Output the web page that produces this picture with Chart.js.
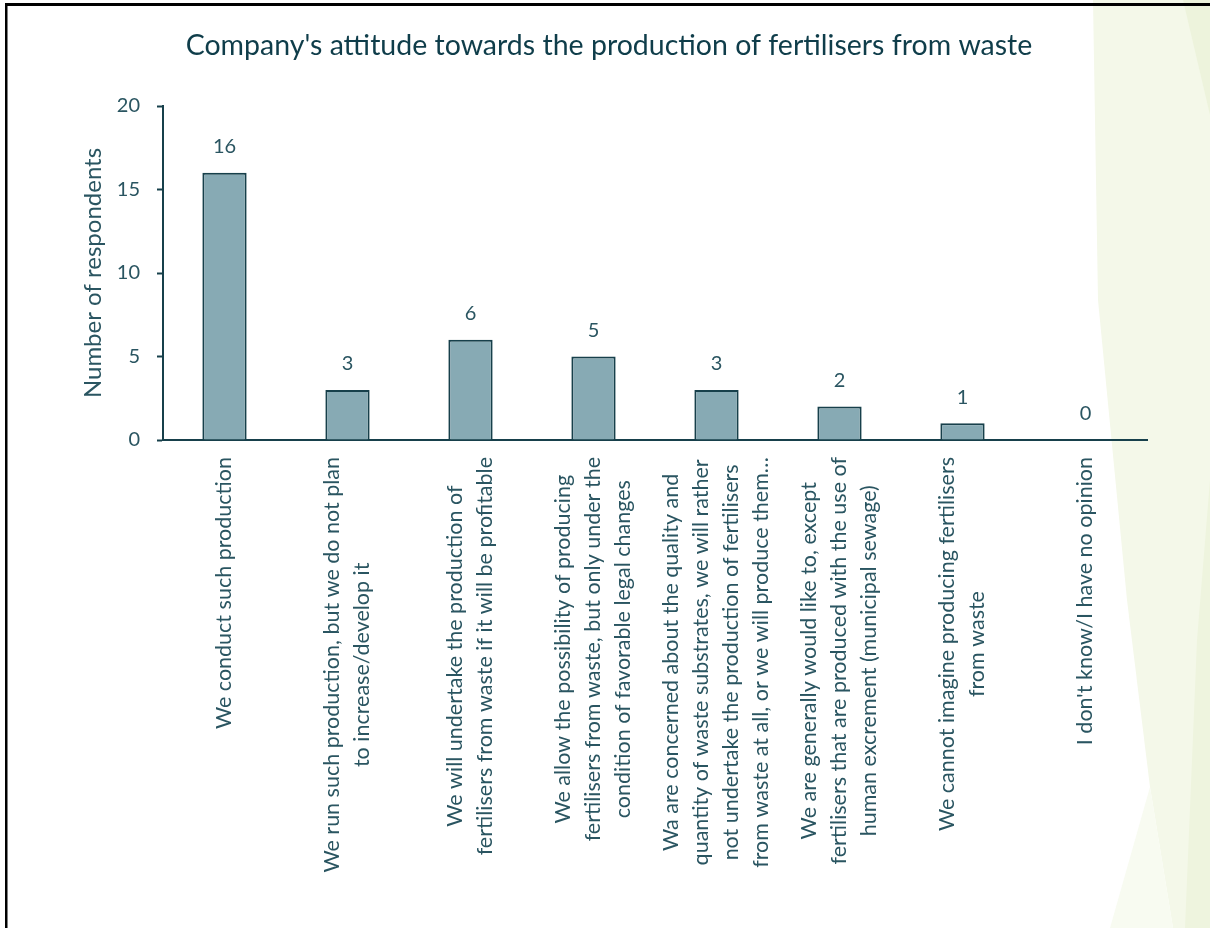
<!DOCTYPE html>
<html>
<head>
<meta charset="utf-8">
<title>Company's attitude towards the production of fertilisers from waste</title>
<script src="https://cdn.jsdelivr.net/npm/chart.js@4.4.0/dist/chart.umd.min.js"></script>
<style>
  html, body { margin: 0; padding: 0; background: #fff; }
  canvas { display: block; }
</style>
</head>
<body>
<canvas id="myChart" width="1210" height="928"></canvas>

<script>
    // survey answers (multi-line category labels) and counts
    var categories = [
        ["We conduct such production"],
        ["We run such production, but we do not plan", "to increase/develop it"],
        ["We will undertake the production of", "fertilisers from waste if it will be profitable"],
        ["We allow the possibility of producing", "fertilisers from waste, but only under the", "condition of favorable legal changes"],
        ["Wa are concerned about the quality and", "quantity of waste substrates, we will rather", "not undertake the production of fertilisers", "from waste at all, or we will produce them\u2026"],
        ["We are generally would like to, except", "fertilisers that are produced with the use of", "human excrement (municipal sewage)"],
        ["We cannot imagine producing fertilisers", "from waste"],
        ["I don't know/I have no opinion"]
    ];
    var respondents = [16, 3, 6, 5, 3, 2, 1, 0];
    var yTicks = [0, 5, 10, 15, 20];
    var chartTitle = "Company's attitude towards the production of fertilisers from waste";

    var ink = '#17404b';
    var textCol = '#2a5561';
    var fontFam = 'Lato, "Open Sans", sans-serif';

    // slide background: white with the green strip on the right, title and black frame
    var backdrop = {
        id: 'backdrop',
        beforeDraw: function(chart) {
            var c = chart.ctx;
            c.save();
            c.fillStyle = '#ffffff';
            c.fillRect(0, 0, chart.width, chart.height);
            function poly(pts, col) {
                c.beginPath();
                c.moveTo(pts[0][0], pts[0][1]);
                for (var i = 1; i < pts.length; i++) c.lineTo(pts[i][0], pts[i][1]);
                c.closePath();
                c.fillStyle = col;
                c.fill();
            }
            poly([[1093, 0], [1210, 0], [1210, 928], [1173, 928], [1150, 787], [1127, 600], [1098, 300]], '#f4f8e9');
            poly([[1150, 787], [1173, 928], [1110, 928]], '#f8fbf1');
            poly([[1183, 0], [1210, 0], [1210, 115]], '#edf3dc');
            poly([[1210, 480], [1210, 928], [1185, 928], [1197, 640]], '#eef4de');

            c.font = '28.5px ' + fontFam;
            c.fillStyle = '#0f3d4a';
            c.textAlign = 'center';
            c.textBaseline = 'middle';
            c.fillText(chartTitle, 609, 46);
            c.restore();
        },
        afterDraw: function(chart) {
            var c = chart.ctx;
            c.save();
            c.fillStyle = '#000';
            c.fillRect(5, 3, chart.width - 5, 3);
            c.fillRect(5, 3, 2.5, chart.height);
            c.restore();
        }
    };

    // count written above each bar
    var valueLabels = {
        id: 'valueLabels',
        afterDatasetsDraw: function(chart) {
            var c = chart.ctx;
            var meta = chart.getDatasetMeta(0);
            c.save();
            c.font = '20px ' + fontFam;
            c.fillStyle = textCol;
            c.textAlign = 'center';
            c.textBaseline = 'middle';
            meta.data.forEach(function(bar, i) {
                c.fillText(String(respondents[i]), bar.x, bar.y - 26);
            });
            c.restore();
        }
    };

    // rotated category labels, lines centred on each other
    var categoryLabels = {
        id: 'categoryLabels',
        afterDraw: function(chart) {
            var c = chart.ctx;
            var xs = chart.scales.x;
            var top = chart.chartArea.bottom + 17;
            c.save();
            c.font = '21.5px ' + fontFam;
            c.fillStyle = textCol;
            c.textAlign = 'center';
            c.textBaseline = 'middle';
            categories.forEach(function(lines, i) {
                var cx = xs.getPixelForValue(i);
                var w = Math.max.apply(null, lines.map(function(l) { return c.measureText(l).width; }));
                c.save();
                c.translate(cx, top + w / 2);
                c.rotate(-Math.PI / 2);
                lines.forEach(function(l, j) {
                    c.fillText(l, 0, (j - (lines.length - 1) / 2) * 30);
                });
                c.restore();
            });
            c.restore();
        }
    };

    var ctx = document.getElementById('myChart').getContext('2d');
    var chart = new Chart(ctx, {
        type: 'bar',
        data: {
            labels: categories,
            datasets: [{
                label: 'Number of respondents',
                data: respondents,
                backgroundColor: '#87aab4',
                borderColor: ink,
                borderWidth: 2,
                categoryPercentage: 0.36,
                barPercentage: 1
            }]
        },
        options: {
            responsive: false,
            animation: false,
            layout: { padding: { left: 0, right: 63, top: 106, bottom: 0 } },
            plugins: {
                legend: { display: false },
                tooltip: { enabled: false },
                title: { display: false }
            },
            scales: {
                x: {
                    grid: { display: false },
                    border: { display: true, color: ink, width: 2 },
                    ticks: { display: false },
                    afterFit: function(s) { s.height = 488; }
                },
                y: {
                    min: 0,
                    max: 20,
                    afterBuildTicks: function(s) {
                        s.ticks = yTicks.map(function(v) { return { value: v }; });
                    },
                    grid: { display: true, drawOnChartArea: false, tickLength: 6, tickColor: ink, tickWidth: 2 },
                    border: { display: true, color: ink, width: 2 },
                    ticks: { color: textCol, font: { family: fontFam, size: 20 }, padding: 17 },
                    title: {
                        display: true,
                        text: 'Number of respondents',
                        color: textCol,
                        font: { family: fontFam, size: 24 },
                        padding: { top: 79 }
                    },
                    afterFit: function(s) { s.width = 163; }
                }
            }
        },
        plugins: [backdrop, valueLabels, categoryLabels]
    });
</script>
</body>
</html>
